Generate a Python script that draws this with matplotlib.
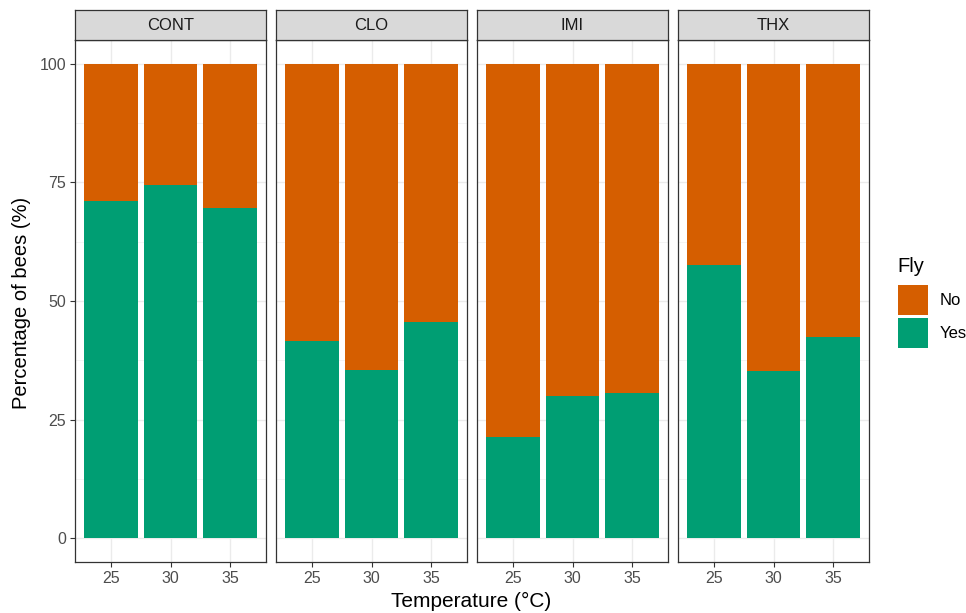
import numpy as np
import matplotlib.pyplot as plt
from matplotlib.patches import Rectangle

plt.rcParams['font.family'] = ['Liberation Sans', 'DejaVu Sans']

treatments = ['CONT', 'CLO', 'IMI', 'THX']
temps = ['25', '30', '35']
# percentage of bees that flew (Yes); No = 100 - Yes
yes_pct = {
    'CONT': [71.1, 74.5, 69.6],
    'CLO': [41.6, 35.4, 45.6],
    'IMI': [21.3, 30.0, 30.6],
    'THX': [57.6, 35.2, 42.4],
}
col_no = '#D55E00'
col_yes = '#009E73'

fig = plt.figure(figsize=(9.66, 6.13), dpi=100)
W, H = 966, 613
left0, pw, gap = 75, 191, 10
ptop, pbot, stop = 40, 562, 10

for i, t in enumerate(treatments):
    x0 = left0 + i * (pw + gap)
    ax = fig.add_axes([x0 / W, 1 - pbot / H, pw / W, (pbot - ptop) / H])
    x = np.arange(1, 4)
    yes = np.array(yes_pct[t])
    ax.bar(x, yes, width=0.9, color=col_yes, zorder=3)
    ax.bar(x, 100 - yes, bottom=yes, width=0.9, color=col_no, zorder=3)
    ax.set_xlim(0.4, 3.6)
    ax.set_ylim(-5, 105)
    ax.set_xticks(x)
    ax.set_xticklabels(temps)
    ax.set_yticks([0, 25, 50, 75, 100])
    ax.set_yticks([12.5, 37.5, 62.5, 87.5], minor=True)
    ax.grid(which='major', color='#EBEBEB', lw=1.0, zorder=0)
    ax.grid(which='minor', axis='y', color='#F2F2F2', lw=0.6, zorder=0)
    ax.set_axisbelow(True)
    ax.tick_params(which='major', length=3.5, color='#333333', labelsize=11.5,
                   labelcolor='#4D4D4D', pad=3)
    ax.tick_params(which='minor', length=0)
    if i > 0:
        ax.tick_params(axis='y', left=False, labelleft=False)
    for s in ax.spines.values():
        s.set_color('#333333')
        s.set_linewidth(0.9)
    # strip
    sax = fig.add_axes([x0 / W, 1 - ptop / H, pw / W, (ptop - stop) / H])
    sax.set_facecolor('#D9D9D9')
    sax.set_xticks([])
    sax.set_yticks([])
    for s in sax.spines.values():
        s.set_color('#333333')
        s.set_linewidth(0.9)
    sax.text(0.5, 0.5, t, ha='center', va='center', fontsize=12,
             color='#1A1A1A', transform=sax.transAxes)

fig.text(22 / W, 1 - 303 / H, 'Percentage of bees (%)', rotation=90,
         ha='center', va='center', fontsize=14.5)
fig.text(471 / W, 1 - 601 / H, 'Temperature (°C)', ha='center', va='center',
         fontsize=15)

# legend
fig.text(897 / W, 1 - 266 / H, 'Fly', ha='left', va='center', fontsize=14.5)
for j, (lab, c) in enumerate([('No', col_no), ('Yes', col_yes)]):
    ky = 285 + j * 33
    fig.patches.append(Rectangle((898 / W, 1 - (ky + 30) / H), 30 / W, 30 / H,
                                 facecolor=c, edgecolor='none',
                                 transform=fig.transFigure))
    fig.text(940 / W, 1 - (ky + 15) / H, lab, ha='left', va='center',
             fontsize=12)

fig.savefig('out.png', dpi=100)
